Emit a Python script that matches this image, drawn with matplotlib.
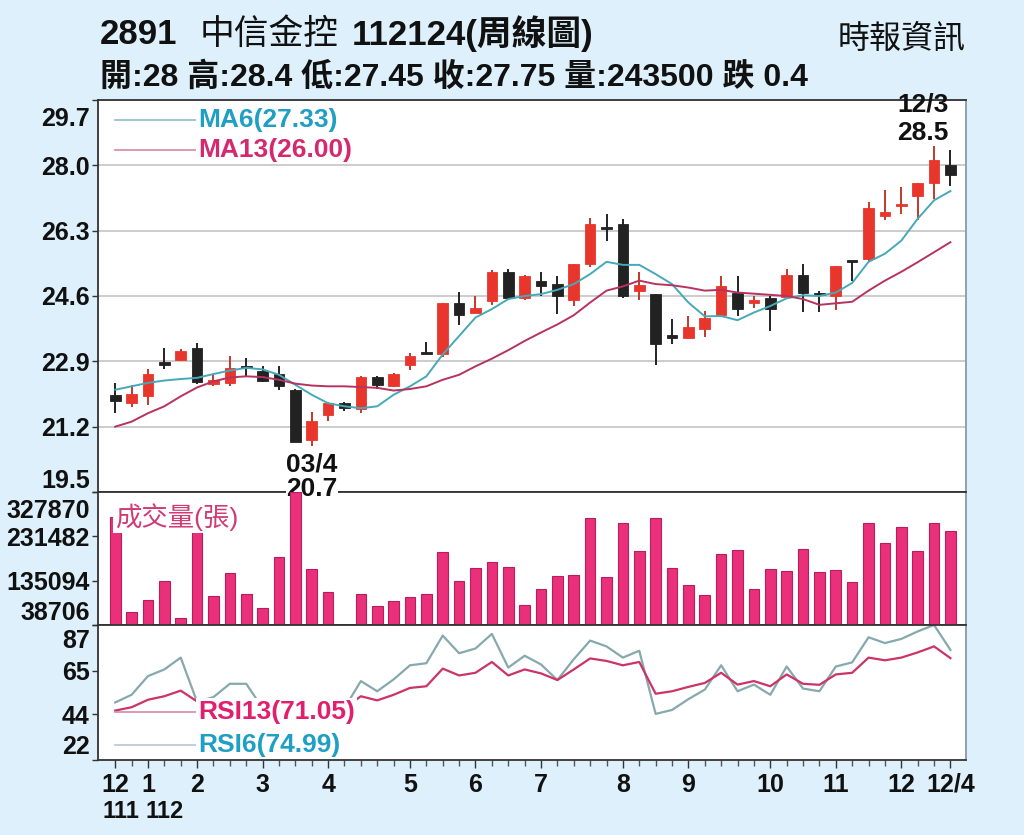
import matplotlib
matplotlib.use("Agg")
import matplotlib.pyplot as plt
from matplotlib.transforms import ScaledTranslation

# 週K資料 (111/12 ~ 112/12/4)
weeks = list(range(52))
opens = [22.02, 21.81, 21.99, 22.89, 22.93, 23.24, 22.32, 22.34, 22.79, 22.66,
         22.57, 22.16, 20.85, 21.51, 21.81, 21.66, 22.48, 22.25, 22.80, 23.14,
         23.08, 24.41, 24.15, 24.47, 25.23, 24.54, 25.00, 24.90, 24.50, 25.42,
         26.40, 26.48, 24.72, 24.65, 23.59, 23.50, 23.75, 24.10, 24.69, 24.41,
         24.54, 24.58, 25.15, 24.67, 24.61, 25.51, 25.57, 26.68, 26.93, 27.21,
         27.55, 28.00]
highs = [22.34, 22.29, 22.69, 23.25, 23.23, 23.38, 22.55, 23.03, 22.98, 22.79,
         22.79, 22.18, 21.57, 21.83, 21.83, 22.51, 22.53, 22.60, 23.12, 23.40,
         24.41, 24.71, 24.61, 25.28, 25.30, 25.15, 25.22, 25.11, 25.42, 26.63,
         26.74, 26.61, 25.22, 24.65, 23.99, 24.08, 24.21, 25.13, 25.11, 24.60,
         24.60, 25.30, 25.43, 24.72, 25.37, 25.51, 27.05, 27.35, 27.44, 27.55,
         28.50, 28.40]
lows = [21.55, 21.71, 21.77, 22.69, 22.90, 22.32, 22.25, 22.27, 22.49, 22.35,
        22.16, 20.79, 20.70, 21.36, 21.62, 21.55, 22.18, 22.22, 22.67, 23.08,
        23.02, 23.84, 24.15, 24.36, 24.55, 24.50, 24.59, 24.14, 24.33, 25.36,
        26.02, 24.56, 24.49, 22.80, 23.34, 23.50, 23.54, 24.10, 24.08, 24.30,
        23.69, 24.58, 24.19, 24.19, 24.24, 25.00, 25.50, 26.57, 26.73, 26.59,
        27.12, 27.45]
closes = [21.88, 22.06, 22.57, 22.80, 23.18, 22.37, 22.42, 22.73, 22.73, 22.40,
          22.25, 20.81, 21.36, 21.81, 21.68, 22.48, 22.29, 22.57, 23.03, 23.08,
          24.41, 24.10, 24.30, 25.23, 24.55, 25.11, 24.87, 24.61, 25.42, 26.48,
          26.35, 24.61, 24.88, 23.34, 23.51, 23.79, 24.04, 24.87, 24.26, 24.49,
          24.26, 25.15, 24.68, 24.62, 25.37, 25.49, 26.90, 26.79, 26.99, 27.55,
          28.15, 27.75]
ma6 = [22.16, 22.25, 22.34, 22.40, 22.44, 22.47, 22.57, 22.66, 22.73, 22.69,
       22.55, 22.29, 22.03, 21.81, 21.73, 21.68, 21.73, 22.03, 22.25, 22.51,
       23.08, 23.56, 24.04, 24.26, 24.52, 24.60, 24.65, 24.76, 24.91, 25.17,
       25.49, 25.41, 25.41, 25.17, 24.91, 24.43, 24.07, 24.08, 23.97, 24.17,
       24.34, 24.54, 24.62, 24.60, 24.69, 24.94, 25.49, 25.70, 26.04, 26.61,
       27.09, 27.33]
ma13 = [21.20, 21.33, 21.55, 21.73, 21.99, 22.22, 22.38, 22.48, 22.51, 22.49,
        22.42, 22.32, 22.27, 22.25, 22.25, 22.23, 22.21, 22.14, 22.18, 22.25,
        22.42, 22.55, 22.77, 22.97, 23.19, 23.43, 23.65, 23.86, 24.10, 24.43,
        24.74, 24.85, 25.00, 24.91, 24.88, 24.82, 24.74, 24.76, 24.69, 24.66,
        24.63, 24.60, 24.52, 24.37, 24.41, 24.45, 24.74, 25.00, 25.23, 25.48,
        25.74, 26.00]
volumes = [273400, 66300, 93900, 133900, 54000, 246500, 102600, 152800, 105500, 75000,
           187600, 327870, 160800, 111400, 38706, 106300, 79400, 91700, 99000, 105500,
           197100, 134600, 163700, 176700, 165100, 83000, 117200, 144800, 148400, 271900,
           142600, 259600, 200000, 271200, 163000, 125200, 104100, 192000, 200700, 117200,
           160000, 156400, 204300, 155000, 158600, 133100, 261000, 216000, 250800, 200000,
           261000, 243500]
rsi6 = [49.7, 53.4, 62.4, 65.6, 71.3, 50.0, 52.3, 58.7, 58.7, 47.0,
        45.0, 42.0, 44.0, 46.0, 47.0, 60.0, 55.1, 60.8, 67.6, 68.6,
        81.9, 73.4, 75.7, 82.7, 66.5, 72.2, 68.0, 60.5, 70.5, 79.5,
        76.7, 71.3, 74.6, 44.2, 46.1, 51.3, 55.9, 67.6, 55.1, 58.3,
        53.4, 67.0, 56.4, 55.1, 67.0, 69.0, 81.1, 78.3, 80.3, 83.9,
        87.0, 74.99]
rsi13 = [45.8, 47.4, 51.0, 52.7, 55.4, 50.2, 48.0, 47.5, 47.5, 46.0,
         45.0, 43.0, 44.0, 45.0, 47.0, 52.7, 50.7, 53.4, 56.7, 57.5,
         66.0, 62.7, 64.0, 69.2, 62.7, 65.6, 63.7, 60.5, 65.6, 70.9,
         69.7, 67.6, 69.2, 53.9, 55.1, 57.2, 59.1, 64.0, 58.3, 60.0,
         57.5, 63.2, 58.7, 58.2, 63.2, 64.0, 71.3, 70.0, 71.3, 73.8,
         76.7, 71.05]

month_pos = [0, 2, 5, 9, 13, 18, 22, 26, 31, 35, 40, 44, 48, 51]
month_labels = ["12", "1", "2", "3", "4", "5", "6", "7", "8", "9", "10", "11", "12", "12/4"]
year_labels = ["111", "112"]
price_ticks = [19.5, 21.2, 22.9, 24.6, 26.3, 28.0, 29.7]
rsi_ticks = [22, 44, 65, 87]
high_date = "12/3"
low_date = "03/4"

title_code = "2891"
title_name = "中信金控"
title_rest = "112124(周線圖)"
source = "時報資訊"
info_line = "開:28 高:28.4 低:27.45 收:27.75 量:243500 跌 0.4"

BG = "#ddf0fb"
RED = "#e8362c"
RED_WICK = "#c0392b"
BLK = "#222222"
CYAN = "#45a9b8"
MAG = "#b8325e"
VOL = "#ea2f7b"

plt.rcParams["font.family"] = ["Liberation Sans", "Noto Sans CJK TC", "DejaVu Sans"]
plt.rcParams["font.weight"] = "bold"

fig = plt.figure(figsize=(10.24, 8.35), dpi=100, facecolor=BG)


def px_axes(top, bottom):
    return fig.add_axes([98 / 1024, 1 - bottom / 835, 868 / 1024, (bottom - top) / 835])


ax_p = px_axes(100, 492)
ax_v = px_axes(492, 625)
ax_r = px_axes(625, 760)

for ax in (ax_p, ax_v, ax_r):
    ax.set_xlim(-1.05, 51.95)
    ax.set_facecolor("white")
    for name, sp in ax.spines.items():
        sp.set_color("#8a9aa8" if name == "right" else "#333333")
        sp.set_linewidth(1.3)
    ax.tick_params(axis="y", direction="out", length=4, width=1, color="#333333",
                   labelsize=18, pad=2)


def nudge_edge_labels(ax, top_px, bottom_px):
    labels = ax.get_yticklabels()
    labels[-1].set_transform(labels[-1].get_transform()
                             + ScaledTranslation(0, -top_px / 100, fig.dpi_scale_trans))
    labels[0].set_transform(labels[0].get_transform()
                            + ScaledTranslation(0, bottom_px / 100, fig.dpi_scale_trans))


# ---- 價格 K 線 ----
up = [c >= o for o, c in zip(opens, closes)]
body_col = [RED if u else BLK for u in up]
wick_col = [RED_WICK if u else BLK for u in up]
bottoms = [min(o, c) for o, c in zip(opens, closes)]
heights = [max(abs(c - o), 0.05) for o, c in zip(opens, closes)]

ax_p.vlines(weeks, lows, highs, colors=wick_col, lw=1.4, zorder=2)
ax_p.bar(weeks, heights, bottom=bottoms, width=0.65, color=body_col,
         edgecolor=body_col, lw=0.6, zorder=3)
ax_p.plot(weeks, ma6, color=CYAN, lw=1.4, zorder=4)
ax_p.plot(weeks, ma13, color=MAG, lw=1.4, zorder=4)

ax_p.set_ylim(price_ticks[0], price_ticks[-1])
ax_p.set_yticks(price_ticks)
ax_p.set_yticklabels([f"{t:.1f}" for t in price_ticks])
ax_p.grid(axis="y", color="#c8c8c8", lw=1.3, zorder=0)
ax_p.set_xticks([])
nudge_edge_labels(ax_p, 17, 14)

# 均線圖例
ax_p.plot([0.0196, 0.115], [0.949, 0.949], transform=ax_p.transAxes, color="#8fbccb", lw=1.2)
ax_p.plot([0.0196, 0.115], [0.872, 0.872], transform=ax_p.transAxes, color="#d58aa0", lw=1.2)
box = dict(boxstyle="square,pad=0.08", fc="white", ec="none")
ax_p.text(0.115, 0.949, f"MA6({ma6[-1]:.2f})", transform=ax_p.transAxes, color="#1f9fc4",
          fontsize=19, va="center", ha="left", bbox=box, zorder=5)
ax_p.text(0.115, 0.872, f"MA13({ma13[-1]:.2f})", transform=ax_p.transAxes, color="#d6286e",
          fontsize=19, va="center", ha="left", bbox=box, zorder=5)

# 最高點標示
i_hi = highs.index(max(highs))
ax_p.annotate(f"{high_date}\n{max(highs):.1f}", xy=(i_hi, max(highs)), xytext=(-8, 1),
              textcoords="offset points", ha="center", va="bottom", fontsize=19,
              color="#111111", linespacing=1.2, annotation_clip=False, zorder=6)

# ---- 成交量 ----
vmin, vmax = min(volumes), max(volumes)
step = (vmax - vmin) / 3
vol_ticks = [vmin + k * step for k in range(4)]
ax_v.bar(weeks, [v - vmin for v in volumes], bottom=vmin, width=0.65, color=VOL,
         edgecolor="#b81e5a", lw=0.8, zorder=3)
ax_v.set_ylim(vmin, vmax)
ax_v.set_yticks(vol_ticks)
ax_v.set_yticklabels([f"{t:.0f}" for t in vol_ticks])
ax_v.set_xticks([])
nudge_edge_labels(ax_v, 16, 15)
ax_v.text(0.0196, 0.812, "成交量(張)", transform=ax_v.transAxes, color="#d03a75",
          fontsize=19, fontweight="normal", va="center", ha="left", bbox=box, zorder=5)

# 最低點標示 (畫在量圖上, 讓量柱蓋過文字)
i_lo = lows.index(min(lows))
ax_v.annotate(f"{low_date}\n{min(lows):.1f}", xy=(i_lo, min(lows)), xycoords=ax_p.transData,
              xytext=(0, -5), textcoords="offset points", ha="center", va="top",
              fontsize=19, color="#111111", linespacing=1.0, annotation_clip=False,
              bbox=dict(boxstyle="square,pad=0.02", fc="white", ec="none"), zorder=2.7)

# ---- RSI ----
ax_r.plot(weeks, rsi6, color="#86a9ad", lw=1.6, zorder=2)
ax_r.plot(weeks, rsi13, color="#cc3366", lw=1.6, zorder=2)
ax_r.set_ylim(rsi_ticks[0], rsi_ticks[-1])
ax_r.set_yticks(rsi_ticks)
nudge_edge_labels(ax_r, 14, 15)

ax_r.plot([0.0196, 0.115], [0.356, 0.356], transform=ax_r.transAxes, color="#d58aa0", lw=1.2, zorder=3)
ax_r.plot([0.0196, 0.115], [0.111, 0.111], transform=ax_r.transAxes, color="#b8c4d8", lw=1.2, zorder=3)
ax_r.text(0.115, 0.356, f"RSI13({rsi13[-1]:.2f})", transform=ax_r.transAxes, color="#e0206e",
          fontsize=19, va="center", ha="left", bbox=box, zorder=5)
ax_r.text(0.115, 0.111, f"RSI6({rsi6[-1]:.2f})", transform=ax_r.transAxes, color="#1f9fc4",
          fontsize=19, va="center", ha="left", bbox=box, zorder=5)

ax_r.set_xticks(weeks, minor=True)
ax_r.set_xticks(month_pos)
ax_r.set_xticklabels(month_labels)
ax_r.tick_params(axis="x", which="major", direction="out", length=6, width=1,
                 color="#333333", labelsize=18, pad=3)
ax_r.tick_params(axis="x", which="minor", direction="out", length=4, width=1, color="#555555")
for label in ax_r.get_xticklabels():
    label.set_color("#111111")

ax_r.annotate(year_labels[0], xy=(month_pos[0], 0), xycoords=("data", "axes fraction"),
              xytext=(-9, -37), textcoords="offset points", ha="left", va="center",
              fontsize=17, color="#111111", annotation_clip=False)
ax_r.annotate(year_labels[1], xy=(month_pos[1], 0), xycoords=("data", "axes fraction"),
              xytext=(-2, -37), textcoords="offset points", ha="left", va="center",
              fontsize=17, color="#111111", annotation_clip=False)

for ax in (ax_p, ax_v, ax_r):
    for label in ax.get_yticklabels():
        label.set_color("#111111")

# ---- 標題 ----
fig.text(100 / 1024, 1 - 34 / 835, title_code, fontsize=25, va="center", ha="left", color="#111111")
fig.text(200 / 1024, 1 - 34 / 835, title_name, fontsize=25, fontweight="normal",
         va="center", ha="left", color="#111111")
fig.text(352 / 1024, 1 - 34 / 835, title_rest, fontsize=25, va="center", ha="left", color="#111111")
fig.text(966 / 1024, 1 - 40 / 835, source, fontsize=23, fontweight="normal",
         va="center", ha="right", color="#111111")
fig.text(100 / 1024, 1 - 77 / 835, info_line, fontsize=23, va="center", ha="left", color="#111111")

fig.savefig("out.png", dpi=100, facecolor=BG)
